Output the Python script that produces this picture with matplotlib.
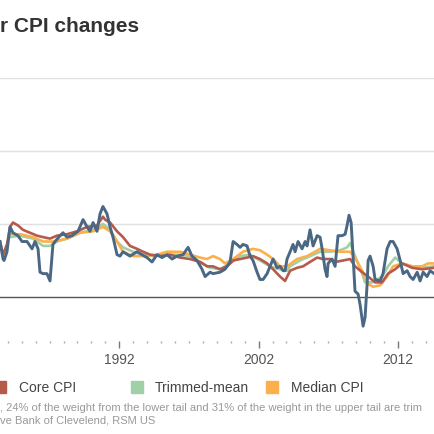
import matplotlib
matplotlib.use("Agg")
import matplotlib.pyplot as plt
from matplotlib.ticker import FixedLocator, MultipleLocator, NullLocator
from matplotlib.patches import Rectangle

plt.rcParams['font.family'] = ['Liberation Sans', 'DejaVu Sans']

# ---- data (year, % change) ----
cpi_years = [1983.44, 1983.66, 1983.73, 1983.94, 1984.16, 1984.37, 1984.73, 1985.02, 1985.38, 1985.74,
             1985.95, 1986.17, 1986.31, 1986.53, 1986.81, 1987.03, 1987.24, 1987.39, 1987.75, 1987.96,
             1988.25, 1988.61, 1989.04, 1989.40, 1989.69, 1989.90, 1990.12, 1990.40, 1990.62, 1990.83,
             1991.12, 1991.34, 1991.55, 1991.84, 1992.05, 1992.27, 1992.77, 1993.27, 1993.63, 1993.99,
             1994.35, 1994.71, 1995.07, 1995.43, 1995.79, 1996.15, 1996.58, 1996.94, 1997.22, 1997.58,
             1997.94, 1998.16, 1998.52, 1998.73, 1999.23, 1999.59, 1999.95, 2000.17, 2000.45, 2000.67,
             2000.88, 2001.17, 2001.39, 2001.60, 2001.89, 2002.10, 2002.32, 2002.61, 2002.82, 2003.04,
             2003.33, 2003.54, 2003.76, 2003.90, 2004.04, 2004.26, 2004.47, 2004.62, 2004.83, 2005.12,
             2005.34, 2005.48, 2005.69, 2005.91, 2006.20, 2006.41, 2006.56, 2006.77, 2006.91, 2006.99,
             2007.27, 2007.49, 2007.70, 2007.99, 2008.21, 2008.35, 2008.49, 2008.64, 2008.78, 2008.92,
             2009.14, 2009.28, 2009.50, 2009.64, 2009.79, 2009.86, 2010.00, 2010.22, 2010.36, 2010.72,
             2010.93, 2011.22, 2011.44, 2011.65, 2011.94, 2012.16, 2012.37, 2012.66, 2012.87, 2013.09,
             2013.38, 2013.59, 2013.81, 2014.09, 2014.31, 2014.60]
cpi_vals = [3.8, 2.6, 2.5, 3.1, 4.8, 4.4, 4.2, 3.8, 3.8, 3.3,
            3.8, 3.3, 1.7, 1.6, 1.6, 1.1, 3.6, 3.8, 4.2, 4.4,
            4.1, 4.2, 4.5, 5.3, 4.8, 4.5, 5.1, 4.5, 5.7, 6.2,
            5.7, 4.8, 4.1, 2.9, 2.8, 3.1, 2.8, 3.1, 2.9, 2.7,
            2.4, 2.9, 2.7, 2.9, 2.6, 2.8, 2.9, 3.4, 2.8, 2.5,
            1.9, 1.4, 1.7, 1.6, 1.7, 1.9, 2.4, 3.8, 3.6, 3.4,
            3.6, 3.5, 2.8, 2.5, 1.7, 1.2, 1.2, 1.6, 2.1, 2.6,
            2.0, 2.1, 1.8, 1.8, 2.6, 3.1, 3.6, 3.1, 3.8, 3.3,
            3.8, 3.5, 4.6, 3.5, 4.2, 4.1, 3.3, 1.9, 1.4, 2.3,
            2.6, 2.1, 4.2, 4.2, 4.3, 4.9, 5.6, 5.1, 2.8, 0.4,
            0.2, -0.5, -2.0, -1.4, 0.9, 2.5, 2.8, 2.1, 1.2, 1.1,
            1.6, 3.3, 3.8, 3.8, 3.3, 2.5, 1.6, 1.8, 1.4, 1.2,
            1.7, 1.1, 1.7, 1.4, 1.8, 1.6]

core_years = [1983.44, 1983.66, 1983.94, 1984.16, 1984.37, 1984.73, 1985.09, 1985.59, 1986.10, 1986.53,
              1987.03, 1987.53, 1988.25, 1988.97, 1989.69, 1990.40, 1990.83, 1990.98, 1991.34, 1991.84,
              1992.27, 1992.77, 1993.27, 1993.71, 1994.21, 1994.93, 1995.64, 1996.36, 1997.08, 1997.80,
              1998.30, 1998.73, 1999.23, 1999.74, 2000.17, 2000.67, 2001.17, 2001.60, 2002.10, 2002.61,
              2003.04, 2003.54, 2003.90, 2004.26, 2004.76, 2005.19, 2005.69, 2006.20, 2006.63, 2007.13,
              2007.49, 2008.06, 2008.57, 2008.92, 2009.43, 2009.86, 2010.36, 2010.86, 2011.29, 2011.80,
              2012.30, 2013.02, 2013.73, 2014.60]
core_vals = [3.8, 2.9, 3.6, 4.8, 5.1, 4.9, 4.6, 4.4, 4.2, 4.1,
             4.0, 4.2, 4.3, 4.5, 4.8, 4.9, 5.5, 5.3, 5.1, 4.5,
             4.1, 3.5, 3.3, 3.1, 2.9, 2.8, 2.9, 2.7, 2.6, 2.4,
             2.1, 2.1, 1.9, 2.1, 2.5, 2.6, 2.7, 2.8, 2.6, 2.3,
             1.9, 1.4, 1.1, 1.8, 2.0, 2.1, 2.4, 2.7, 2.6, 2.6,
             2.4, 2.5, 2.6, 2.1, 1.7, 1.4, 1.0, 1.0, 1.6, 1.9,
             2.3, 2.0, 1.9, 2.0]

trim_years = [1984.16, 1984.88, 1985.81, 1986.53, 1987.03, 1987.53, 1988.25, 1989.18, 1990.12, 1990.83,
              1991.34, 1991.84, 1992.27, 1992.99, 1993.71, 1994.42, 1995.43, 1996.36, 1997.08, 1997.80,
              1998.52, 1999.23, 1999.95, 2000.67, 2001.39, 2002.10, 2002.82, 2003.54, 2004.04, 2004.26,
              2004.97, 2005.69, 2006.41, 2007.13, 2007.85, 2008.35, 2008.57, 2008.92, 2009.43, 2009.64,
              2010.14, 2010.86, 2011.29, 2011.80, 2012.30, 2013.02, 2013.73, 2014.60]
trim_vals = [4.1, 4.2, 4.0, 3.5, 3.5, 3.8, 4.0, 4.4, 4.6, 5.0,
             4.6, 3.8, 3.4, 3.1, 2.9, 2.8, 2.9, 2.9, 2.8, 2.4,
             2.0, 1.9, 2.3, 2.8, 2.9, 2.5, 2.1, 1.9, 1.8, 2.1,
             2.5, 2.8, 3.1, 3.1, 3.2, 3.4, 3.7, 2.8, 1.6, 1.0,
             1.0, 1.4, 2.1, 2.7, 2.3, 2.1, 2.0, 2.1]

med_years = [1984.16, 1984.88, 1985.81, 1986.53, 1987.24, 1988.25, 1989.18, 1990.12, 1990.83, 1991.34,
             1991.84, 1992.27, 1992.99, 1993.71, 1994.71, 1995.43, 1996.36, 1997.08, 1997.80, 1998.30,
             1998.73, 1999.23, 1999.59, 2000.17, 2000.88, 2001.60, 2002.10, 2002.61, 2003.04, 2003.54,
             2004.04, 2004.47, 2004.76, 2005.48, 2006.05, 2006.41, 2007.13, 2007.85, 2008.57, 2008.92,
             2009.43, 2009.86, 2010.22, 2010.72, 2011.22, 2011.65, 2012.30, 2013.02, 2013.73, 2014.17,
             2014.60]
med_vals = [4.3, 4.3, 4.1, 3.8, 3.8, 4.0, 4.4, 4.5, 4.8, 4.5,
            3.8, 3.1, 2.8, 2.8, 2.9, 3.1, 3.1, 2.9, 2.7, 2.6,
            2.8, 2.6, 2.3, 2.6, 3.1, 3.3, 3.2, 2.9, 2.6, 2.1,
            2.1, 2.4, 2.6, 2.8, 3.1, 3.3, 3.2, 3.1, 3.1, 2.7,
            1.8, 0.9, 0.7, 0.8, 1.4, 2.1, 2.3, 2.1, 2.1, 2.3,
            2.3]

legend_labels = ["Core CPI", "Trimmed-mean", "Median CPI"]
tick_years = [1992, 2002, 2012]
y_grid = [5, 10, 15]

C_BLUE = "#4a6783"
C_RED = "#b65a4c"
C_GREEN = "#a0d1a6"
C_ORANGE = "#fbb04c"

W = 435.0
fig = plt.figure(figsize=(4.35, 4.35), dpi=100)
ax = fig.add_axes((0.0, 1 - 341.8 / W, 1.0, (341.8 - 79.0) / W))

ax.plot(trim_years, trim_vals, color=C_GREEN, lw=1.9, zorder=2)
ax.plot(med_years, med_vals, color=C_ORANGE, lw=1.9, zorder=3)
ax.plot(core_years, core_vals, color=C_RED, lw=1.9, zorder=4)
ax.plot(cpi_years, cpi_vals, color=C_BLUE, lw=2.1, zorder=5)
for g in y_grid:
    ax.axhline(g, color="#e0e0e0", lw=1.0, zorder=0)
ax.axhline(0, color="#555555", lw=1.0, zorder=1)

ax.set_xlim(1983.44, 2014.66)
ax.set_ylim(-3.0, 15.0)

for s in ax.spines.values():
    s.set_visible(False)
ax.yaxis.set_major_locator(NullLocator())
ax.xaxis.set_major_locator(FixedLocator(tick_years))
ax.xaxis.set_minor_locator(MultipleLocator(1))
ax.set_xticklabels([str(t) for t in tick_years])
ax.tick_params(axis="x", which="major", length=5, width=1, color="#777777",
               labelsize=10, labelcolor="#555555", pad=3)
ax.tick_params(axis="x", which="minor", length=1.5, width=1, color="#aaaaaa")

fig.text(0.0, 1 - 31.5 / W, "r CPI changes", fontsize=15, fontweight="bold",
         color="#333333", ha="left", va="baseline")

sq_x = [-6, 131, 266]
sq_colors = [C_RED, C_GREEN, C_ORANGE]
txt_x = [19, 155, 291]
for sx, c, tx, lab in zip(sq_x, sq_colors, txt_x, legend_labels):
    fig.add_artist(Rectangle((sx / W, 1 - 394 / W), 12 / W, 12 / W,
                             transform=fig.transFigure, color=c))
    fig.text(tx / W, 1 - 388 / W, lab, fontsize=10, color="#444444",
             ha="left", va="center")

fig.text(0.0, 1 - 408 / W,
         ", 24% of the weight from the lower tail and 31% of the weight in the upper tail are trim",
         fontsize=8, color="#999999", ha="left", va="center")
fig.text(0.0, 1 - 421 / W, "ve Bank of Clevelend, RSM US",
         fontsize=8, color="#999999", ha="left", va="center")

fig.savefig("out.png", dpi=100, facecolor="white")
